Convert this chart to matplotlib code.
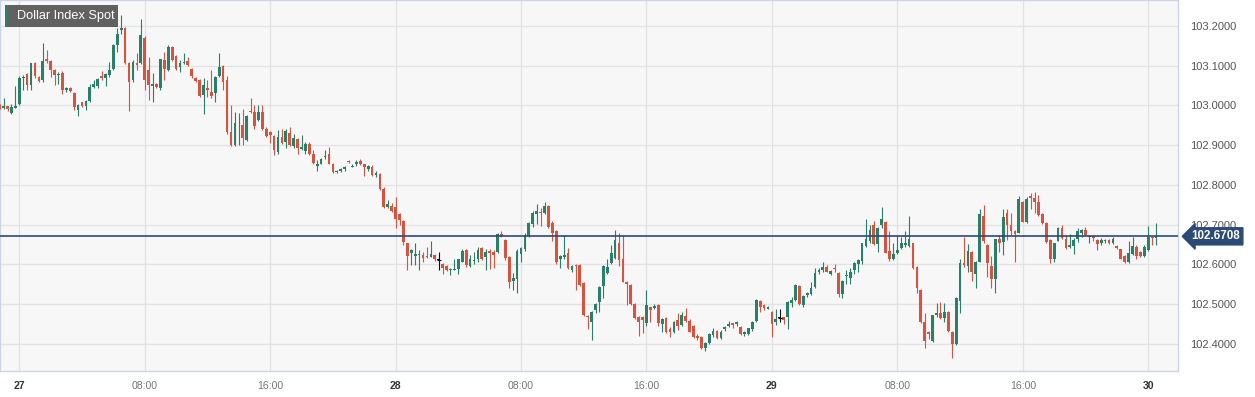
import numpy as np
import matplotlib
matplotlib.use("Agg")
import matplotlib.pyplot as plt
from matplotlib.patches import Rectangle
from matplotlib.transforms import blended_transform_factory

plt.rcParams["font.family"] = ["Liberation Sans", "DejaVu Sans"]

# 15-minute candles, first one at 26th 22:45 (index -5 = 5 bars before the 27th 00:00)
first_index = -5

opens = [
    103.001, 102.993, 102.998, 102.982, 102.994,
    103.005, 103.068, 103.079, 103.052, 103.107, 103.071, 103.064, 103.117, 103.112, 103.090,
    103.076, 103.082, 103.038, 103.043, 103.032, 102.988, 103.008, 102.998, 103.012, 103.047,
    103.049, 103.074, 103.068, 103.077, 103.093, 103.152, 103.189, 103.196, 103.107, 103.064,
    103.107, 103.106, 103.171, 103.090, 103.050, 103.053, 103.043, 103.114, 103.090, 103.148,
    103.124, 103.097, 103.107, 103.112, 103.093, 103.070, 103.064, 103.026, 103.043, 103.034,
    103.032, 103.074, 103.100, 103.064, 102.934, 102.900, 102.955, 102.952, 102.913, 102.987,
    102.984, 102.963, 102.984, 102.942, 102.934, 102.923, 102.884, 102.920, 102.909, 102.932,
    102.899, 102.915, 102.891, 102.886, 102.903, 102.879, 102.848, 102.854, 102.870, 102.878,
    102.854, 102.832, 102.834, 102.839, 102.861, 102.846, 102.852, 102.861, 102.852, 102.839,
    102.846, 102.824, 102.827, 102.791, 102.744, 102.748, 102.744, 102.726, 102.710, 102.653,
    102.629, 102.622, 102.624, 102.624, 102.622, 102.620, 102.624, 102.612, 102.601, 102.596,
    102.585, 102.586, 102.588, 102.607, 102.636, 102.596, 102.608, 102.615, 102.641, 102.618,
    102.635, 102.632, 102.632, 102.677, 102.662, 102.620, 102.559, 102.563, 102.627, 102.638,
    102.672, 102.703, 102.726, 102.733, 102.730, 102.747, 102.705, 102.683, 102.613, 102.620,
    102.628, 102.586, 102.599, 102.598, 102.554, 102.470, 102.456, 102.485, 102.506, 102.546,
    102.579, 102.603, 102.616, 102.653, 102.613, 102.557, 102.548, 102.501, 102.469, 102.467,
    102.452, 102.492, 102.490, 102.498, 102.450, 102.465, 102.437, 102.431, 102.460, 102.448,
    102.470, 102.459, 102.445, 102.420, 102.418, 102.391, 102.403, 102.423, 102.433, 102.414,
    102.437, 102.445, 102.452, 102.450, 102.442, 102.424, 102.425, 102.437, 102.458, 102.509,
    102.498, 102.489, 102.481, 102.456, 102.466, 102.467, 102.467, 102.504, 102.511, 102.546,
    102.498, 102.523, 102.526, 102.544, 102.582, 102.586, 102.593, 102.576, 102.592, 102.579,
    102.526, 102.570, 102.565, 102.586, 102.600, 102.610, 102.647, 102.660, 102.699, 102.651,
    102.700, 102.708, 102.635, 102.613, 102.630, 102.641, 102.650, 102.647, 102.653, 102.593,
    102.537, 102.456, 102.431, 102.408, 102.473, 102.479, 102.465, 102.481, 102.430, 102.400,
    102.509, 102.604, 102.596, 102.632, 102.576, 102.607, 102.722, 102.649, 102.596, 102.563,
    102.663, 102.657, 102.729, 102.700, 102.685, 102.680, 102.758, 102.706, 102.772, 102.766,
    102.758, 102.727, 102.704, 102.661, 102.615, 102.660, 102.693, 102.663, 102.643, 102.647,
    102.663, 102.680, 102.687, 102.670, 102.672, 102.661, 102.654, 102.658, 102.662, 102.654,
    102.646, 102.638, 102.621, 102.607, 102.627, 102.645, 102.632, 102.621, 102.637, 102.670,
    102.666,
]

highs = [
    103.003, 103.020, 102.999, 103.003, 103.050,
    103.075, 103.076, 103.082, 103.108, 103.110, 103.074, 103.158, 103.139, 103.114, 103.092,
    103.085, 103.086, 103.046, 103.046, 103.034, 103.004, 103.010, 103.015, 103.054, 103.064,
    103.070, 103.087, 103.082, 103.110, 103.154, 103.194, 103.227, 103.198, 103.110, 103.114,
    103.131, 103.217, 103.174, 103.122, 103.082, 103.057, 103.118, 103.135, 103.152, 103.150,
    103.126, 103.114, 103.131, 103.122, 103.095, 103.072, 103.066, 103.068, 103.064, 103.089,
    103.075, 103.131, 103.102, 103.074, 103.001, 102.983, 102.980, 102.990, 102.976, 103.020,
    103.001, 103.001, 103.001, 102.946, 102.936, 102.925, 102.938, 102.940, 102.942, 102.946,
    102.928, 102.918, 102.926, 102.909, 102.909, 102.889, 102.864, 102.868, 102.889, 102.896,
    102.856, 102.838, 102.843, 102.849, 102.863, 102.854, 102.863, 102.866, 102.854, 102.851,
    102.851, 102.836, 102.829, 102.794, 102.762, 102.755, 102.769, 102.730, 102.712, 102.655,
    102.640, 102.653, 102.637, 102.632, 102.645, 102.658, 102.627, 102.632, 102.604, 102.599,
    102.590, 102.615, 102.615, 102.638, 102.638, 102.624, 102.632, 102.645, 102.645, 102.640,
    102.640, 102.636, 102.680, 102.683, 102.665, 102.622, 102.579, 102.640, 102.645, 102.678,
    102.706, 102.735, 102.752, 102.741, 102.758, 102.750, 102.710, 102.688, 102.623, 102.674,
    102.641, 102.598, 102.601, 102.600, 102.556, 102.472, 102.484, 102.502, 102.546, 102.598,
    102.613, 102.649, 102.688, 102.679, 102.674, 102.558, 102.550, 102.503, 102.471, 102.470,
    102.536, 102.494, 102.500, 102.500, 102.466, 102.467, 102.443, 102.458, 102.479, 102.481,
    102.490, 102.462, 102.447, 102.425, 102.420, 102.404, 102.428, 102.439, 102.435, 102.434,
    102.444, 102.459, 102.454, 102.459, 102.444, 102.432, 102.441, 102.458, 102.513, 102.511,
    102.500, 102.496, 102.483, 102.487, 102.487, 102.469, 102.508, 102.519, 102.550, 102.548,
    102.523, 102.532, 102.557, 102.590, 102.590, 102.605, 102.598, 102.586, 102.601, 102.581,
    102.561, 102.586, 102.590, 102.605, 102.614, 102.655, 102.714, 102.699, 102.710, 102.695,
    102.745, 102.710, 102.685, 102.653, 102.674, 102.668, 102.683, 102.722, 102.655, 102.595,
    102.539, 102.479, 102.433, 102.474, 102.504, 102.506, 102.504, 102.483, 102.432, 102.517,
    102.613, 102.670, 102.652, 102.634, 102.609, 102.740, 102.750, 102.651, 102.621, 102.665,
    102.674, 102.739, 102.739, 102.729, 102.687, 102.773, 102.760, 102.769, 102.779, 102.783,
    102.775, 102.729, 102.706, 102.663, 102.655, 102.695, 102.699, 102.674, 102.677, 102.666,
    102.691, 102.689, 102.695, 102.674, 102.674, 102.663, 102.666, 102.664, 102.664, 102.669,
    102.648, 102.640, 102.623, 102.660, 102.670, 102.648, 102.634, 102.648, 102.697, 102.672,
    102.705,
]

lows = [
    102.990, 102.990, 102.987, 102.979, 102.993,
    103.002, 103.040, 103.040, 103.038, 103.070, 103.060, 103.060, 103.106, 103.072, 103.051,
    103.055, 103.030, 103.034, 103.035, 102.988, 102.973, 102.995, 102.988, 103.010, 103.045,
    103.045, 103.065, 103.049, 103.072, 103.090, 103.135, 103.181, 103.105, 102.985, 103.060,
    103.089, 103.104, 103.040, 103.013, 103.010, 103.045, 103.040, 103.064, 103.088, 103.112,
    103.089, 103.085, 103.104, 103.099, 103.070, 103.058, 103.022, 102.978, 103.022, 103.018,
    103.009, 103.072, 103.040, 102.928, 102.898, 102.898, 102.900, 102.900, 102.910, 102.980,
    102.942, 102.962, 102.938, 102.920, 102.905, 102.875, 102.878, 102.903, 102.892, 102.897,
    102.892, 102.879, 102.888, 102.878, 102.876, 102.854, 102.836, 102.852, 102.866, 102.852,
    102.829, 102.830, 102.832, 102.836, 102.855, 102.844, 102.848, 102.851, 102.822, 102.836,
    102.823, 102.821, 102.787, 102.742, 102.741, 102.731, 102.693, 102.699, 102.650, 102.587,
    102.598, 102.598, 102.586, 102.605, 102.616, 102.618, 102.610, 102.586, 102.576, 102.583,
    102.573, 102.585, 102.577, 102.605, 102.593, 102.593, 102.601, 102.607, 102.611, 102.586,
    102.588, 102.590, 102.630, 102.668, 102.612, 102.540, 102.537, 102.527, 102.607, 102.635,
    102.670, 102.695, 102.703, 102.697, 102.728, 102.693, 102.660, 102.601, 102.590, 102.613,
    102.588, 102.582, 102.537, 102.545, 102.470, 102.437, 102.410, 102.479, 102.481, 102.515,
    102.576, 102.600, 102.613, 102.596, 102.555, 102.498, 102.499, 102.463, 102.420, 102.428,
    102.445, 102.456, 102.487, 102.445, 102.431, 102.427, 102.417, 102.427, 102.435, 102.445,
    102.456, 102.429, 102.416, 102.411, 102.387, 102.383, 102.400, 102.418, 102.412, 102.412,
    102.433, 102.442, 102.439, 102.445, 102.423, 102.421, 102.422, 102.433, 102.455, 102.481,
    102.486, 102.487, 102.417, 102.448, 102.456, 102.450, 102.437, 102.494, 102.508, 102.499,
    102.492, 102.517, 102.524, 102.541, 102.576, 102.580, 102.580, 102.574, 102.582, 102.517,
    102.515, 102.551, 102.551, 102.576, 102.580, 102.601, 102.645, 102.653, 102.649, 102.632,
    102.691, 102.628, 102.610, 102.611, 102.626, 102.639, 102.645, 102.645, 102.588, 102.529,
    102.454, 102.389, 102.412, 102.404, 102.467, 102.463, 102.456, 102.431, 102.364, 102.398,
    102.479, 102.594, 102.582, 102.559, 102.540, 102.605, 102.655, 102.569, 102.540, 102.529,
    102.632, 102.624, 102.662, 102.674, 102.607, 102.678, 102.706, 102.705, 102.739, 102.729,
    102.722, 102.703, 102.655, 102.603, 102.607, 102.658, 102.664, 102.638, 102.641, 102.626,
    102.657, 102.668, 102.671, 102.655, 102.660, 102.636, 102.649, 102.654, 102.652, 102.651,
    102.638, 102.613, 102.603, 102.603, 102.624, 102.613, 102.618, 102.619, 102.634, 102.649,
    102.649,
]

closes = [
    102.993, 102.998, 102.990, 102.997, 102.999,
    103.070, 103.072, 103.052, 103.107, 103.074, 103.062, 103.112, 103.113, 103.089, 103.076,
    103.080, 103.040, 103.043, 103.037, 102.995, 103.001, 102.998, 103.011, 103.047, 103.055,
    103.066, 103.068, 103.079, 103.089, 103.152, 103.181, 103.196, 103.107, 103.060, 103.110,
    103.101, 103.177, 103.065, 103.051, 103.055, 103.047, 103.116, 103.093, 103.146, 103.114,
    103.093, 103.107, 103.110, 103.101, 103.074, 103.062, 103.024, 103.051, 103.038, 103.025,
    103.072, 103.097, 103.060, 102.934, 102.900, 102.957, 102.957, 102.918, 102.973, 102.983,
    102.948, 102.984, 102.940, 102.923, 102.926, 102.888, 102.920, 102.906, 102.937, 102.900,
    102.917, 102.892, 102.896, 102.903, 102.878, 102.856, 102.853, 102.866, 102.874, 102.854,
    102.832, 102.836, 102.841, 102.846, 102.857, 102.848, 102.858, 102.853, 102.844, 102.848,
    102.825, 102.831, 102.791, 102.744, 102.752, 102.735, 102.714, 102.712, 102.657, 102.621,
    102.637, 102.626, 102.627, 102.616, 102.618, 102.626, 102.613, 102.612, 102.590, 102.585,
    102.588, 102.589, 102.613, 102.635, 102.599, 102.613, 102.612, 102.636, 102.613, 102.632,
    102.630, 102.624, 102.677, 102.672, 102.616, 102.557, 102.567, 102.634, 102.641, 102.674,
    102.704, 102.729, 102.735, 102.729, 102.747, 102.695, 102.680, 102.605, 102.621, 102.623,
    102.590, 102.596, 102.595, 102.548, 102.473, 102.467, 102.481, 102.500, 102.544, 102.596,
    102.593, 102.628, 102.662, 102.611, 102.557, 102.551, 102.501, 102.465, 102.456, 102.460,
    102.498, 102.486, 102.496, 102.452, 102.464, 102.431, 102.431, 102.456, 102.445, 102.473,
    102.459, 102.431, 102.418, 102.414, 102.389, 102.402, 102.425, 102.433, 102.414, 102.431,
    102.442, 102.450, 102.448, 102.455, 102.425, 102.429, 102.439, 102.456, 102.511, 102.492,
    102.490, 102.493, 102.450, 102.462, 102.466, 102.460, 102.506, 102.511, 102.548, 102.501,
    102.521, 102.527, 102.540, 102.579, 102.586, 102.593, 102.582, 102.584, 102.588, 102.526,
    102.559, 102.574, 102.582, 102.603, 102.611, 102.653, 102.663, 102.688, 102.651, 102.693,
    102.714, 102.630, 102.615, 102.626, 102.636, 102.655, 102.654, 102.663, 102.590, 102.540,
    102.456, 102.408, 102.425, 102.472, 102.479, 102.465, 102.481, 102.433, 102.400, 102.515,
    102.604, 102.598, 102.635, 102.582, 102.607, 102.727, 102.660, 102.603, 102.563, 102.663,
    102.653, 102.719, 102.699, 102.683, 102.677, 102.764, 102.708, 102.764, 102.766, 102.756,
    102.725, 102.705, 102.657, 102.615, 102.653, 102.693, 102.666, 102.641, 102.650, 102.662,
    102.683, 102.686, 102.674, 102.672, 102.666, 102.652, 102.662, 102.661, 102.655, 102.664,
    102.641, 102.615, 102.607, 102.630, 102.647, 102.621, 102.622, 102.645, 102.668, 102.666,
    102.6708,
]

last_price = 102.6708
tick_pos = [0, 32, 64, 96, 128, 160, 192, 224, 256, 288]
tick_labels = ["27", "08:00", "16:00", "28", "08:00", "16:00", "29", "08:00", "16:00", "30"]
price_ticks = [102.4, 102.5, 102.6, 102.7, 102.8, 102.9, 103.0, 103.1, 103.2]

GREEN = "#2a7f6b"
RED = "#d6533f"
NAVY = "#2c4a76"

o = np.array(opens)
h = np.array(highs)
l = np.array(lows)
c = np.array(closes)
x = np.arange(len(o)) + first_index

colors = np.where(c > o, GREEN, np.where(c < o, RED, "#111111"))

fig = plt.figure(figsize=(12.55, 3.97), dpi=100)
ax = fig.add_axes([0, 1 - 371 / 397, 1178 / 1255, 371 / 397])
ax.set_facecolor("#f7f7f7")

ax.vlines(x, l, h, colors=colors, lw=0.8, zorder=3)
body = np.maximum(np.abs(c - o), 0.0022)
ax.bar(x, body, bottom=np.minimum(o, c) - np.where(c == o, 0.0011, 0), width=0.7,
       color=colors, linewidth=0, zorder=4)
flat = c == o
ax.hlines(o[flat], x[flat] - 0.5, x[flat] + 0.5, colors="#111111", lw=0.8, zorder=4)

ax.axhline(last_price, color=NAVY, lw=1.2, zorder=5)

ax.set_xlim(-4.92, 295.6)
ax.set_ylim(102.332, 103.2654)

ax.set_yticks(price_ticks)
ax.set_yticklabels([f"{v:.4f}" for v in price_ticks])
ax.yaxis.tick_right()
ax.tick_params(axis="y", length=0, pad=9, labelsize=8.0, labelcolor="#555555")

ax.set_xticks(tick_pos)
ax.set_xticklabels(tick_labels)
ax.tick_params(axis="x", length=0, pad=7, labelsize=7.6, labelcolor="#777777")
for lab in ax.get_xticklabels():
    if ":" not in lab.get_text():
        lab.set_fontweight("bold")
        lab.set_color("#333333")

ax.grid(True, color="#e3e3e3", lw=1.0, zorder=0)
ax.set_axisbelow(True)
for s in ax.spines.values():
    s.set_color("#cdd4e4")
    s.set_linewidth(1.0)

# price tag on the right axis
trans = blended_transform_factory(ax.transAxes, ax.transData)
ax.text(1.0115, last_price, f"{last_price:.4f}", transform=trans, ha="left", va="center",
        color="white", fontsize=8.4, fontweight="bold", zorder=6, clip_on=False,
        bbox=dict(boxstyle="larrow,pad=0.22", fc=NAVY, ec=NAVY))

# title box
W, H = 1255, 397
fig.add_artist(Rectangle((5 / W, 1 - 27 / H), 113 / W, 22 / H, transform=fig.transFigure,
                         fc="#595959", ec="none", alpha=0.95, zorder=10))
fig.add_artist(Rectangle((5 / W, 1 - 27 / H), 3 / W, 22 / H, transform=fig.transFigure,
                         fc=GREEN, ec="none", zorder=11))
fig.text(17 / W, 1 - 16.5 / H, "Dollar Index Spot", color="white", fontsize=9.2,
         ha="left", va="center", zorder=12)

fig.savefig("out.png", dpi=100)
